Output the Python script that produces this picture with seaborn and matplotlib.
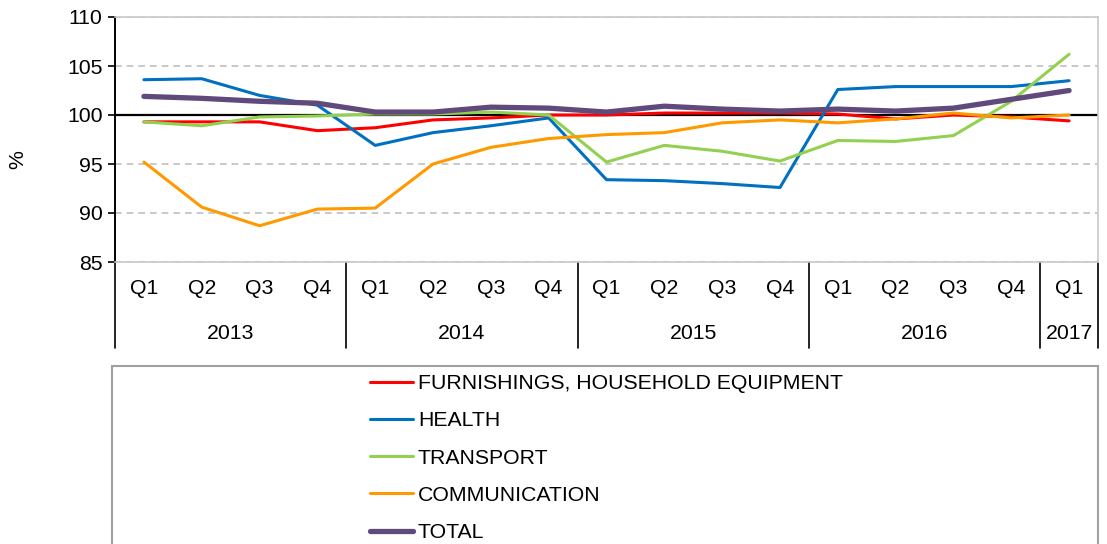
import numpy as np
import pandas as pd
import matplotlib.pyplot as plt
import matplotlib.patches as mpatches
import seaborn as sns

# quarters / years on the category axis
quarters = ['Q1', 'Q2', 'Q3', 'Q4'] * 4 + ['Q1']
years = ['2013', '2014', '2015', '2016', '2017']
year_len = [4, 4, 4, 4, 1]

# index values (%)
furnishings = [99.3, 99.3, 99.3, 98.4, 98.7, 99.5, 99.7, 100.0, 100.0,
               100.2, 100.2, 100.2, 100.1, 99.6, 100.0, 99.8, 99.4]
health = [103.6, 103.7, 102.0, 101.0, 96.9, 98.2, 98.9, 99.7, 93.4,
          93.3, 93.0, 92.6, 102.6, 102.9, 102.9, 102.9, 103.5]
transport = [99.3, 98.9, 99.8, 99.9, 100.1, 100.1, 100.3, 100.0, 95.2,
             96.9, 96.3, 95.3, 97.4, 97.3, 97.9, 101.4, 106.2]
communication = [95.2, 90.6, 88.7, 90.4, 90.5, 95.0, 96.7, 97.6, 98.0,
                 98.2, 99.2, 99.5, 99.2, 99.6, 100.2, 99.7, 100.0]
total = [101.9, 101.7, 101.4, 101.2, 100.3, 100.3, 100.8, 100.7, 100.3,
         100.9, 100.6, 100.4, 100.6, 100.4, 100.7, 101.6, 102.5]

series = ['FURNISHINGS, HOUSEHOLD EQUIPMENT', 'HEALTH', 'TRANSPORT',
          'COMMUNICATION', 'TOTAL']
values = [furnishings, health, transport, communication, total]
colors = ['#FF0000', '#0070C0', '#92D050', '#FF9900', '#604A7B']
widths = [2.2, 2.2, 2.2, 2.2, 3.8]

sns.set_style('white')
plt.rcParams['font.family'] = ['Liberation Sans', 'DejaVu Sans']
for k in ['text.color', 'axes.labelcolor', 'xtick.color', 'ytick.color']:
    plt.rcParams[k] = 'black'
fs = 15.3

W, H = 1107, 544
fig = plt.figure(figsize=(W / 100, H / 100), dpi=100)
ax = fig.add_axes([115 / W, 1 - 262 / H, (1098 - 115) / W, (262 - 17) / H])

pos = np.arange(len(quarters))
for name, vals, c, lw in zip(series, values, colors, widths):
    df = pd.DataFrame({'pos': pos, 'value': vals})
    sns.lineplot(data=df, x='pos', y='value', color=c, linewidth=lw,
                 label=name, ax=ax, legend=False)

ax.axhline(100, color='black', linewidth=1.6, zorder=1.5)

ax.set_xlim(-0.5, len(quarters) - 0.5)
ax.set_ylim(85, 110)
ax.set_yticks(np.arange(85, 111, 5))
ax.grid(axis='y', color='#c0c0c0', linestyle=(0, (4, 3)), linewidth=1.2)
ax.set_axisbelow(True)
ax.tick_params(axis='y', labelsize=fs, length=5, width=1.2, color='black',
               left=True, pad=4)
ax.set_xticks(pos)
ax.set_xticklabels(quarters, fontsize=fs)
ax.tick_params(axis='x', length=0, pad=12)
ax.set_xlabel('')
ax.set_ylabel('')

for s in ['top', 'right', 'bottom']:
    ax.spines[s].set_color('#c8c8c8')
    ax.spines[s].set_linewidth(1.2)
ax.spines['left'].set_color('black')
ax.spines['left'].set_linewidth(1.4)

# year group separators and labels below the axis
trans = ax.get_xaxis_transform()
depth = -(348 - 262) / (262 - 17)
start = 0
bounds = [-0.5]
for y, n in zip(years, year_len):
    ax.text(start + (n - 1) / 2, -(333 - 262) / (262 - 17), y,
            transform=trans, ha='center', va='center', fontsize=fs)
    start += n
    bounds.append(start - 0.5)
for b in bounds:
    ax.plot([b, b], [0, depth], transform=trans, color='black',
            linewidth=1.2, clip_on=False)

fig.text(18 / W, 1 - 160 / H, '%', rotation=90, ha='center', va='center',
         fontsize=fs)

# legend box
rect = mpatches.Rectangle((112 / W, 1 - 560 / H), (1098 - 112) / W,
                          (560 - 366) / H, transform=fig.transFigure,
                          facecolor='white', edgecolor='#a0a0a0',
                          linewidth=1.5, clip_on=False)
fig.patches.append(rect)
handles, labels = ax.get_legend_handles_labels()
fig.legend(handles, labels, loc='upper left',
           bbox_to_anchor=(370 / W, 1 - 374 / H), frameon=False,
           fontsize=fs, handlelength=2.0, handletextpad=0.25,
           labelspacing=0.86, borderpad=0, borderaxespad=0)

fig.savefig('out.png', dpi=100)
